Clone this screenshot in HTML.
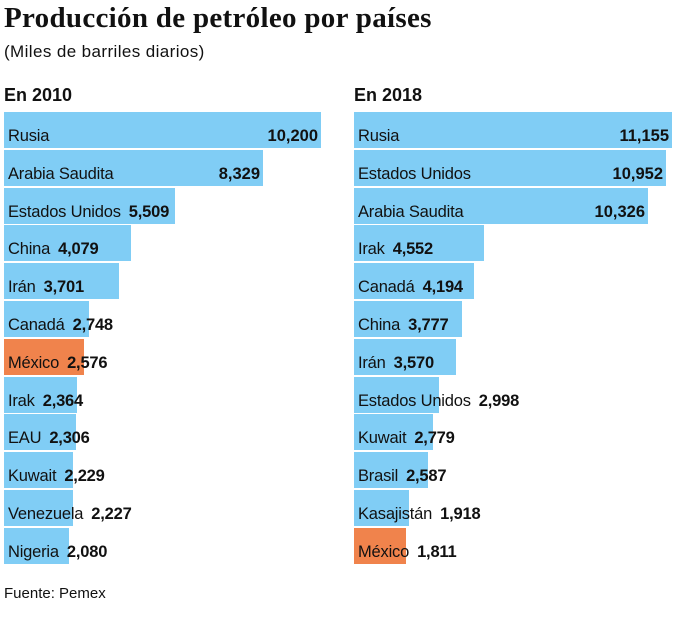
<!DOCTYPE html>
<html><head><meta charset="utf-8"><style>
body{margin:0;width:676px;height:620px;background:#fff;font-family:"Liberation Sans",sans-serif;color:#111;position:relative;overflow:hidden}
.a{position:absolute;white-space:nowrap}
.bar{position:absolute;height:36px;background:#80cdf5}
.o{background:#f0834c}
.lab{position:absolute;font-size:16.5px;line-height:18px;white-space:nowrap;letter-spacing:-0.2px}
.lab b{margin-left:8px;font-size:16.5px}
.rv{position:absolute;font-weight:bold;font-size:16.5px;line-height:18px}
</style></head><body>
<div class="a" style="left:4px;top:2px;font-family:'Liberation Serif',serif;font-weight:bold;font-size:29px;letter-spacing:0.3px">Producción de petróleo por países</div>
<div class="a" style="left:4px;top:42px;font-size:17px;letter-spacing:0.4px">(Miles de barriles diarios)</div>
<div class="a" style="left:4px;top:85px;font-size:18px;font-weight:bold">En 2010</div>
<div class="a" style="left:354px;top:85px;font-size:18px;font-weight:bold">En 2018</div>
<div class="a" style="left:4px;top:585px;font-size:15px">Fuente: Pemex</div>
<div id="c"></div>
<script>
var L=[["Rusia",10200,317,1],["Arabia Saudita",8329,259,1],["Estados Unidos",5509,171],["China",4079,127],["Irán",3701,115],["Canadá",2748,85],["México",2576,80,0,1],["Irak",2364,73],["EAU",2306,72],["Kuwait",2229,69],["Venezuela",2227,69],["Nigeria",2080,65]];
var R=[["Rusia",11155,318,1],["Estados Unidos",10952,312,1],["Arabia Saudita",10326,294,1],["Irak",4552,130],["Canadá",4194,120],["China",3777,108],["Irán",3570,102],["Estados Unidos",2998,85],["Kuwait",2779,79],["Brasil",2587,74],["Kasajistán",1918,55],["México",1811,52,0,1]];
var h="";
function f(d,x0){d.forEach(function(r,i){var y=112+i*37.8;var v=r[1].toLocaleString("en-US");
h+='<div class="bar'+(r[4]?' o':'')+'" style="left:'+x0+'px;top:'+y+'px;width:'+r[2]+'px"></div>';
if(r[3]){h+='<div class="lab" style="left:'+(x0+4)+'px;top:'+(y+15)+'px">'+r[0]+'</div><div class="rv" style="right:'+(676-(x0+r[2]-3))+'px;top:'+(y+15)+'px">'+v+'</div>';}
else h+='<div class="lab" style="left:'+(x0+4)+'px;top:'+(y+15)+'px">'+r[0]+'<b>'+v+'</b></div>';});}
f(L,4);f(R,354);
document.getElementById("c").innerHTML=h;
</script>
</body></html>
